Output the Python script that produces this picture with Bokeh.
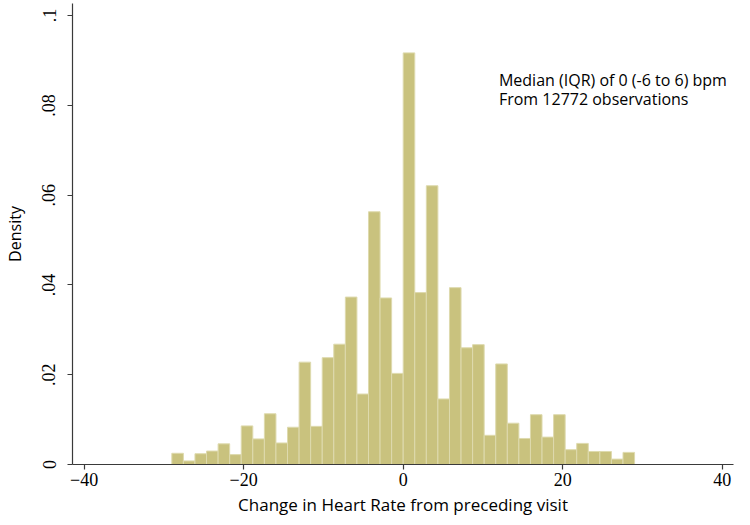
from bokeh.plotting import figure
from bokeh.models import FixedTicker, Label, Range1d, ColumnDataSource
from bokeh.embed import file_html
from bokeh.resources import INLINE

# ---- data ----
bin_start = -29.0
bin_width = 1.45
density = [0.0025, 0.0008, 0.0024, 0.0030, 0.0046, 0.0022, 0.0086, 0.0057, 0.0113, 0.0048,
           0.0083, 0.0228, 0.0085, 0.0238, 0.0268, 0.0373, 0.0157, 0.0563, 0.0371, 0.0203,
           0.0917, 0.0383, 0.0621, 0.0146, 0.0394, 0.0260, 0.0267, 0.0065, 0.0224, 0.0092,
           0.0058, 0.0111, 0.0061, 0.0111, 0.0033, 0.0047, 0.0029, 0.0029, 0.0012, 0.0027]
x_ticks = [-40, -20, 0, 20, 40]
y_ticks = [0, 0.02, 0.04, 0.06, 0.08, 0.1]
y_tick_labels = ["0", ".02", ".04", ".06", ".08", ".1"]
note_lines = ["Median (IQR) of 0 (-6 to 6) bpm", "From 12772 observations"]
x_title = "Change in Heart Rate from preceding visit"
y_title = "Density"

lefts = [bin_start + i * bin_width for i in range(len(density))]
rights = [l + bin_width for l in lefts]
src = ColumnDataSource(dict(left=lefts, right=rights, top=density, bottom=[0] * len(density)))

p = figure(width=734, height=521, output_backend="svg", toolbar_location=None,
           x_range=Range1d(-41.45, 41.4), y_range=Range1d(0, 0.1027),
           min_border_left=71, min_border_right=1, min_border_top=3, min_border_bottom=57)
p.outline_line_color = None
p.xgrid.visible = False
p.ygrid.visible = False
p.background_fill_color = "white"
p.border_fill_color = "white"

p.quad(left="left", right="right", top="top", bottom="bottom", source=src,
       fill_color="#C9C27E", line_color="#DEDAAE", line_width=1)

tick_font = "Liberation Sans Narrow"
for ax in (p.xaxis[0], p.yaxis[0]):
    ax.axis_line_color = "#3a3a3a"
    ax.axis_line_width = 1.2
    ax.major_tick_line_color = "#3a3a3a"
    ax.major_tick_line_width = 1.2
    ax.major_tick_out = 5
    ax.major_tick_in = 0
    ax.minor_tick_line_color = None
    ax.major_label_text_font = tick_font
    ax.major_label_text_font_size = "18px"
    ax.major_label_text_color = "black"
    ax.axis_label_text_font = "Open Sans"
    ax.axis_label_text_font_size = "16px"
    ax.axis_label_text_font_style = "normal"
    ax.axis_label_text_color = "black"

p.xaxis.axis_label_text_font_size = "17px"
p.xaxis.ticker = FixedTicker(ticks=x_ticks)
p.yaxis.ticker = FixedTicker(ticks=y_ticks)
p.yaxis.major_label_overrides = {t: l for t, l in zip(y_ticks, y_tick_labels)}
p.yaxis.major_label_orientation = "vertical"
p.xaxis.axis_label = x_title
p.yaxis.axis_label = y_title
p.xaxis.major_label_standoff = 3
p.xaxis.axis_label_standoff = 4
p.yaxis.major_label_standoff = 12
p.yaxis.axis_label_standoff = 14

for i, line in enumerate(note_lines):
    p.add_layout(Label(x=12.0, y=0.0857 - i * 0.0043, text=line,
                       text_font="Open Sans", text_font_size="16px",
                       text_color="black", text_baseline="alphabetic"))

open("out.html", "w").write(file_html(p, INLINE))
